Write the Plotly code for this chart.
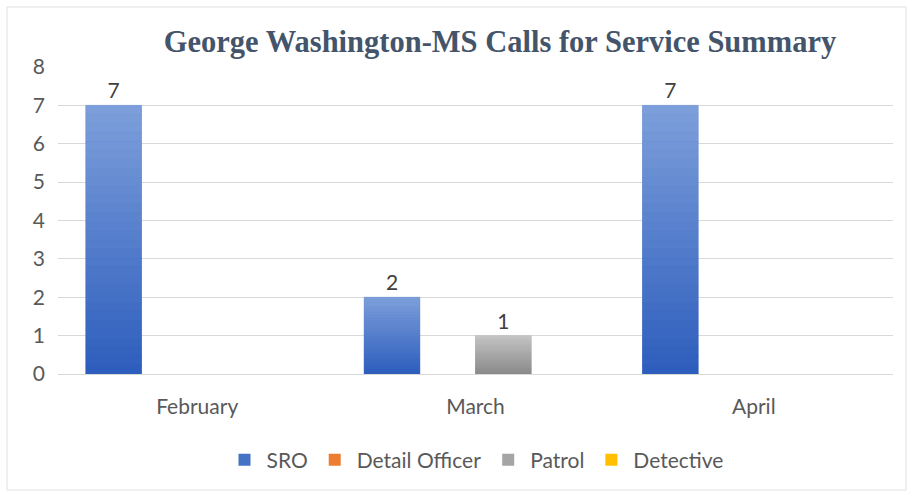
import plotly.graph_objects as go

categories = ["February", "March", "April"]
series_names = ["SRO", "Detail Officer", "Patrol", "Detective"]
sro = [7, 2, 7]
detail_officer = [0, 0, 0]
patrol = [0, 1, 0]
detective = [0, 0, 0]
y_ticks = [0, 1, 2, 3, 4, 5, 6, 7, 8]

series_values = [sro, detail_officer, patrol, detective]
# (bottom colour, top colour, legend colour)
series_colors = [
    ((46, 94, 189), (124, 158, 218), "#4472C4"),
    ((224, 108, 30), (244, 160, 110), "#ED7D31"),
    ((138, 138, 138), (196, 196, 196), "#A5A5A5"),
    ((230, 172, 0), (255, 214, 90), "#FFC000"),
]

FONT = "Lato, Liberation Sans, sans-serif"
N = 30
fig = go.Figure()
for name, vals, (bot, top, solid) in zip(series_names, series_values, series_colors):
    # main trace (legend + labels)
    fig.add_trace(go.Bar(
        x=categories, y=vals, name=name, offsetgroup=name,
        marker=dict(color=solid, line=dict(width=0)),
        text=[str(v) if v else "" for v in vals],
        textposition="outside",
        textfont=dict(family=FONT, size=21, color="#404040"),
        cliponaxis=False,
        hoverinfo="skip",
    ))
    # gradient overlay segments
    for i in range(N):
        t = i / (N - 1)
        c = tuple(round(b + (tp - b) * t) for b, tp in zip(bot, top))
        fig.add_trace(go.Bar(
            x=categories,
            y=[v / N if v else None for v in vals],
            base=[v * i / N if v else None for v in vals],
            offsetgroup=name, showlegend=False, hoverinfo="skip",
            marker=dict(color="rgb(%d,%d,%d)" % c, line=dict(width=0.6, color="rgb(%d,%d,%d)" % c)),
        ))

fig.update_layout(
    width=908, height=493,
    paper_bgcolor="white", plot_bgcolor="white",
    margin=dict(l=58, r=15, t=67, b=119),
    barmode="group", bargap=0.2, bargroupgap=0,
    font=dict(family=FONT, color="#595959", size=21),
    title=dict(
        text="<b>George Washington-MS Calls for Service Summary</b>",
        font=dict(family="Liberation Serif, DejaVu Serif, serif", size=30.5, color="#44546A"),
        x=500 / 908, xanchor="center", y=1 - 41 / 493, yanchor="middle",
    ),
    legend=dict(orientation="h", x=0.5, xanchor="center", y=(374 - 460) / 307, yanchor="middle",
                font=dict(size=21, color="#595959"), itemclick=False, itemwidth=34),
    xaxis=dict(showgrid=False, showline=False, ticks="", tickfont=dict(size=21), ticklabelstandoff=18),
    yaxis=dict(range=[0, 8], tickvals=y_ticks, showgrid=True, gridcolor="#D9D9D9", gridwidth=1,
               zeroline=True, zerolinecolor="#D9D9D9", zerolinewidth=1, ticks="",
               tickfont=dict(size=21), showline=False, ticklabelstandoff=12),
    shapes=[dict(type="rect", xref="paper", yref="paper",
                 x0=(7 - 58) / 835, x1=(906 - 58) / 835,
                 y0=(374 - 490) / 307, y1=(374 - 7) / 307,
                 line=dict(color="#E0E0E0", width=1), fillcolor="rgba(0,0,0,0)", layer="below")],
)

fig.write_html("out.html", config={"displayModeBar": False},
               post_script="document.body.style.margin='0';document.body.style.overflow='hidden';")
